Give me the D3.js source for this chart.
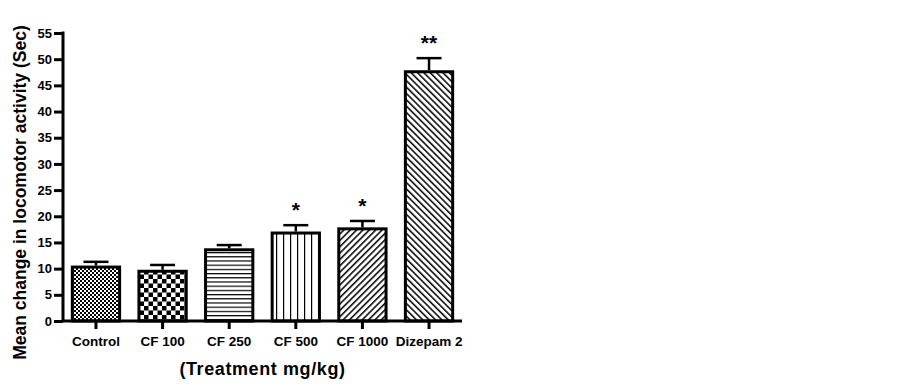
<!DOCTYPE html>
<html>
<head>
<meta charset="utf-8">
<script src="https://cdn.jsdelivr.net/npm/d3@7"></script>
<style>
  body { margin: 0; background: #fff; }
  svg text { font-family: "Liberation Sans", Arial, sans-serif; font-weight: bold; fill: #000; }
</style>
</head>
<body>
<div id="chart"></div>
<script>
// data
var categories = ["Control", "CF 100", "CF 250", "CF 500", "CF 1000", "Dizepam 2"];
var means = [10.3, 9.5, 13.6, 16.8, 17.6, 47.6];
var errors = [1.0, 1.2, 0.9, 1.5, 1.5, 2.6];
var stars = ["", "", "", "*", "*", "**"];
var patterns = ["fineCheck", "bigCheck", "hLines", "vLines", "diagUp", "diagDown"];
var yTicks = [0, 5, 10, 15, 20, 25, 30, 35, 40, 45, 50, 55];

var width = 903, height = 386;
var margin = {left: 63, right: 441, top: 33, bottom: 65};

var svg = d3.select("#chart").append("svg")
            .attr("width", width)
            .attr("height", height);

// fill patterns
var defs = svg.append("defs");

var p = defs.append("pattern").attr("id", "fineCheck")
            .attr("patternUnits", "userSpaceOnUse").attr("width", 4).attr("height", 4);
p.append("rect").attr("width", 4).attr("height", 4).attr("fill", "#fff");
p.append("rect").attr("width", 2).attr("height", 2).attr("fill", "#000");
p.append("rect").attr("x", 2).attr("y", 2).attr("width", 2).attr("height", 2).attr("fill", "#000");

p = defs.append("pattern").attr("id", "bigCheck")
        .attr("patternUnits", "userSpaceOnUse").attr("width", 9).attr("height", 9);
p.append("rect").attr("width", 9).attr("height", 9).attr("fill", "#fff");
p.append("rect").attr("width", 4.5).attr("height", 4.5).attr("fill", "#000");
p.append("rect").attr("x", 4.5).attr("y", 4.5).attr("width", 4.5).attr("height", 4.5).attr("fill", "#000");

p = defs.append("pattern").attr("id", "hLines")
        .attr("patternUnits", "userSpaceOnUse").attr("width", 8).attr("height", 4.2);
p.append("rect").attr("width", 8).attr("height", 4.2).attr("fill", "#fff");
p.append("rect").attr("y", 0).attr("width", 8).attr("height", 1.2).attr("fill", "#000");

p = defs.append("pattern").attr("id", "vLines")
        .attr("patternUnits", "userSpaceOnUse").attr("width", 7).attr("height", 8);
p.append("rect").attr("width", 7).attr("height", 8).attr("fill", "#fff");
p.append("rect").attr("x", 3).attr("width", 1.2).attr("height", 8).attr("fill", "#000");

p = defs.append("pattern").attr("id", "diagUp")
        .attr("patternUnits", "userSpaceOnUse").attr("width", 4.5).attr("height", 4.5)
        .attr("patternTransform", "rotate(45)");
p.append("rect").attr("width", 4.5).attr("height", 4.5).attr("fill", "#fff");
p.append("rect").attr("width", 1.5).attr("height", 4.5).attr("fill", "#000");

p = defs.append("pattern").attr("id", "diagDown")
        .attr("patternUnits", "userSpaceOnUse").attr("width", 4.5).attr("height", 4.5)
        .attr("patternTransform", "rotate(-45)");
p.append("rect").attr("width", 4.5).attr("height", 4.5).attr("fill", "#fff");
p.append("rect").attr("width", 1.5).attr("height", 4.5).attr("fill", "#000");

var xScale = d3.scaleBand()
               .domain(categories)
               .range([margin.left, width - margin.right])
               .paddingInner(0.29)
               .paddingOuter(0.14);

var yScale = d3.scaleLinear()
               .domain([0, 55])
               .range([height - margin.bottom, margin.top]);

// bars
var g = svg.append("g");
g.selectAll(".bar")
 .data(categories)
 .enter().append("rect")
 .attr("class", "bar")
 .attr("x", function(d) { return xScale(d); })
 .attr("y", function(d, i) { return yScale(means[i]); })
 .attr("width", xScale.bandwidth())
 .attr("height", function(d, i) { return yScale(0) - yScale(means[i]); })
 .attr("fill", function(d, i) { return "url(#" + patterns[i] + ")"; })
 .attr("stroke", "#000")
 .attr("stroke-width", 3);

// error bars (upper only)
g.selectAll(".err")
 .data(categories)
 .enter().append("line")
 .attr("x1", function(d) { return xScale(d) + xScale.bandwidth() / 2; })
 .attr("x2", function(d) { return xScale(d) + xScale.bandwidth() / 2; })
 .attr("y1", function(d, i) { return yScale(means[i]) - 1.5; })
 .attr("y2", function(d, i) { return yScale(means[i] + errors[i]); })
 .attr("stroke", "#000").attr("stroke-width", 2.5);

g.selectAll(".cap")
 .data(categories)
 .enter().append("line")
 .attr("x1", function(d) { return xScale(d) + xScale.bandwidth() / 2 - 12.5; })
 .attr("x2", function(d) { return xScale(d) + xScale.bandwidth() / 2 + 12.5; })
 .attr("y1", function(d, i) { return yScale(means[i] + errors[i]); })
 .attr("y2", function(d, i) { return yScale(means[i] + errors[i]); })
 .attr("stroke", "#000").attr("stroke-width", 2.5);

// significance stars
g.selectAll(".star")
 .data(categories)
 .enter().append("text")
 .attr("x", function(d) { return xScale(d) + xScale.bandwidth() / 2; })
 .attr("y", function(d, i) { return yScale(means[i] + errors[i]) - 8; })
 .attr("text-anchor", "middle")
 .style("font-size", "21px")
 .text(function(d, i) { return stars[i]; });

// axes
var yAxis = d3.axisLeft(yScale).tickValues(yTicks).tickSize(9).tickPadding(2);
var yg = svg.append("g")
            .attr("transform", "translate(" + margin.left + ",0)")
            .call(yAxis);
yg.select(".domain").attr("stroke-width", 3).attr("d", "M0," + (yScale(55) - 1.5) + "V" + yScale(0));
yg.selectAll(".tick line").attr("stroke-width", 3);
yg.selectAll(".tick text").style("font-size", "13px");

var xAxis = d3.axisBottom(xScale).tickSize(8).tickPadding(7);
var xg = svg.append("g")
            .attr("transform", "translate(0," + yScale(0) + ")")
            .call(xAxis);
xg.select(".domain").attr("stroke-width", 3).attr("d", "M" + (margin.left - 1.5) + ",0H" + (width - margin.right));
xg.selectAll(".tick line").attr("stroke-width", 3);
xg.selectAll(".tick text").style("font-size", "13.5px");

// axis titles
svg.append("text")
   .attr("transform", "translate(26,192.5) rotate(-90)")
   .attr("text-anchor", "middle")
   .style("font-size", "17.5px")
   .text("Mean change in locomotor activity (Sec)");

svg.append("text")
   .attr("x", 262.5)
   .attr("y", 375)
   .attr("text-anchor", "middle")
   .style("font-size", "18px")
   .style("letter-spacing", "0.6px")
   .text("(Treatment mg/kg)");
</script>
</body>
</html>
